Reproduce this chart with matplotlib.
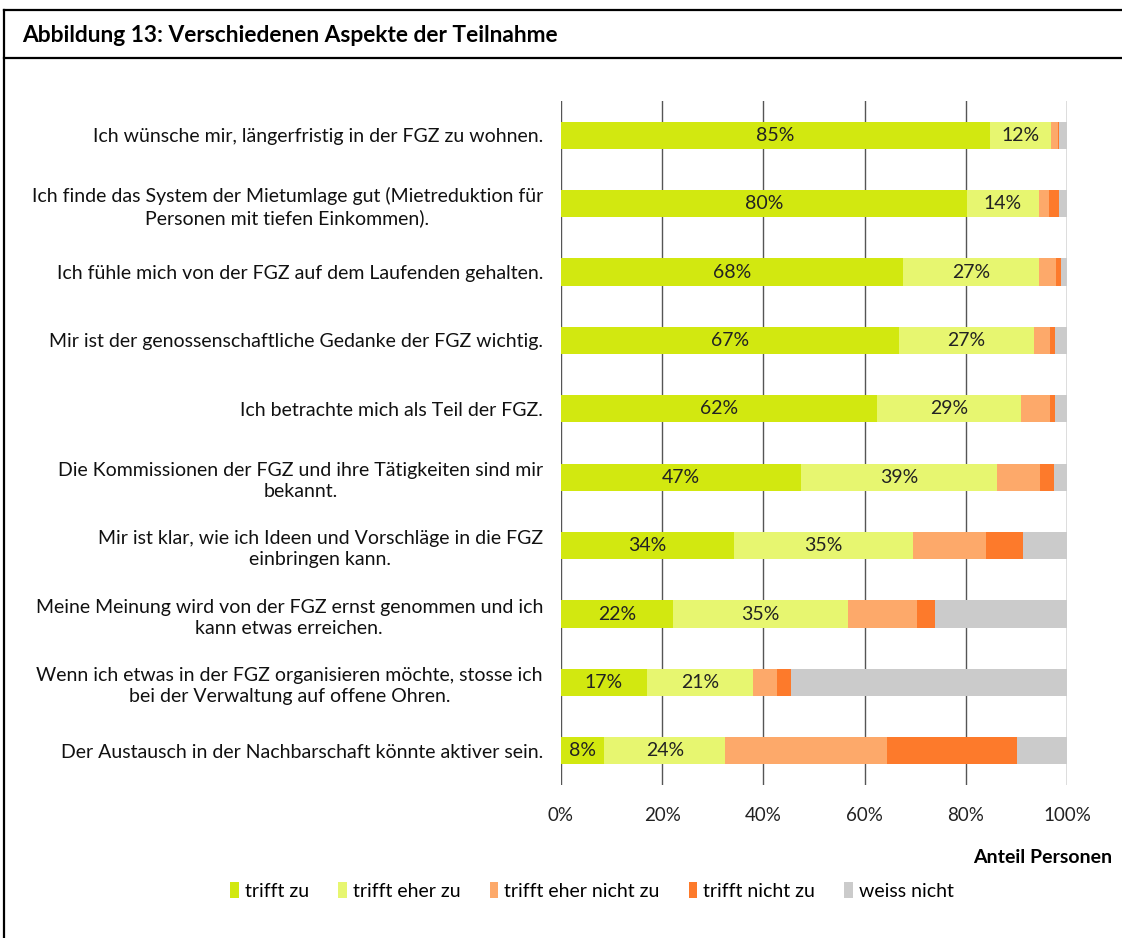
import matplotlib
matplotlib.use("Agg")
import matplotlib.pyplot as plt
from matplotlib.lines import Line2D
from matplotlib.patches import Patch
import numpy as np

plt.rcParams['font.family'] = ['Lato', 'DejaVu Sans']

categories = [
    "Ich wünsche mir, längerfristig in der FGZ zu wohnen.",
    "Ich finde das System der Mietumlage gut (Mietreduktion für\nPersonen mit tiefen Einkommen).",
    "Ich fühle mich von der FGZ auf dem Laufenden gehalten.",
    "Mir ist der genossenschaftliche Gedanke der FGZ wichtig.",
    "Ich betrachte mich als Teil der FGZ.",
    "Die Kommissionen der FGZ und ihre Tätigkeiten sind mir\nbekannt.",
    "Mir ist klar, wie ich Ideen und Vorschläge in die FGZ\neinbringen kann.",
    "Meine Meinung wird von der FGZ ernst genommen und ich\nkann etwas erreichen.",
    "Wenn ich etwas in der FGZ organisieren möchte, stosse ich\nbei der Verwaltung auf offene Ohren.",
    "Der Austausch in der Nachbarschaft könnte aktiver sein.",
]
series_names = ["trifft zu", "trifft eher zu", "trifft eher nicht zu", "trifft nicht zu", "weiss nicht"]
trifft_zu = [84.7, 80.2, 67.6, 66.7, 62.4, 47.4, 34.1, 22.1, 17.0, 8.5]
trifft_eher_zu = [12.1, 14.3, 26.9, 26.7, 28.6, 38.8, 35.4, 34.6, 20.9, 24.0]
trifft_eher_nicht_zu = [1.4, 1.9, 3.4, 3.2, 5.6, 8.4, 14.4, 13.6, 4.7, 32.0]
trifft_nicht_zu = [0.3, 2.1, 0.9, 1.1, 1.1, 2.9, 7.5, 3.7, 2.9, 25.6]
weiss_nicht = [1.5, 1.5, 1.2, 2.3, 2.3, 2.5, 8.6, 26.0, 54.5, 9.9]
colors = ["#D2E810", "#E7F670", "#FDA96A", "#FD7A2B", "#CBCBCB"]
xticks = [0, 20, 40, 60, 80, 100]
xtick_labels = ["0%", "20%", "40%", "60%", "80%", "100%"]

W, H = 1122, 938
fig = plt.figure(figsize=(W / 100, H / 100), dpi=100)
ax = fig.add_axes([561 / W, 1 - 785 / H, (1067 - 561) / W, (785 - 101) / H])

data = [trifft_zu, trifft_eher_zu, trifft_eher_nicht_zu, trifft_nicht_zu, weiss_nicht]
y = np.arange(len(categories))
left = np.zeros(len(categories))
for i, (vals, name, col) in enumerate(zip(data, series_names, colors)):
    vals = np.array(vals)
    ax.barh(y, vals, left=left, height=0.4, color=col, label=name, zorder=3)
    if i < 2:
        for yi, (l, v) in enumerate(zip(left, vals)):
            ax.text(l + v / 2, yi, f"{round(v):.0f}%", ha='center', va='center',
                    fontsize=14, color='#222222', zorder=4)
    left += vals

ax.set_ylim(len(categories) - 0.5, -0.5)
ax.set_xlim(0, 100)
ax.set_yticks(y)
ax.set_yticklabels(categories, fontsize=14, multialignment='center', color='#111111',
                   linespacing=1.3)
ax.set_xticks(xticks)
ax.set_xticklabels(xtick_labels, fontsize=13.5, color='#222222')
ax.tick_params(axis='y', length=0, pad=13)
ax.tick_params(axis='x', length=0, pad=16)
ax.xaxis.grid(True, color='#555555', linewidth=1.0, zorder=0)
for s in ['top', 'right', 'bottom', 'left']:
    ax.spines[s].set_visible(False)

# frame
fig.add_artist(Line2D([4 / W, 1], [1 - 10 / H, 1 - 10 / H], color='black', linewidth=1.6))
fig.add_artist(Line2D([4 / W, 1], [1 - 58 / H, 1 - 58 / H], color='black', linewidth=1.6))
fig.add_artist(Line2D([4 / W, 4 / W], [0, 1 - 10 / H], color='black', linewidth=1.6))

fig.text(22 / W, 1 - 35 / H, "Abbildung 13: Verschiedenen Aspekte der Teilnahme",
         fontsize=16.4, fontweight='bold', ha='left', va='center')
fig.text(1112 / W, 1 - 857 / H, "Anteil Personen", fontsize=14, fontweight='bold',
         ha='right', va='center')

handles = [Patch(facecolor=c, edgecolor='none') for c in colors]
fig.legend(handles, series_names, loc='center', bbox_to_anchor=(592 / W, 1 - 891 / H),
           ncol=5, frameon=False, fontsize=14, handlelength=0.45, handleheight=0.9,
           handletextpad=0.3, columnspacing=1.5)

fig.savefig("out.png", dpi=100)
